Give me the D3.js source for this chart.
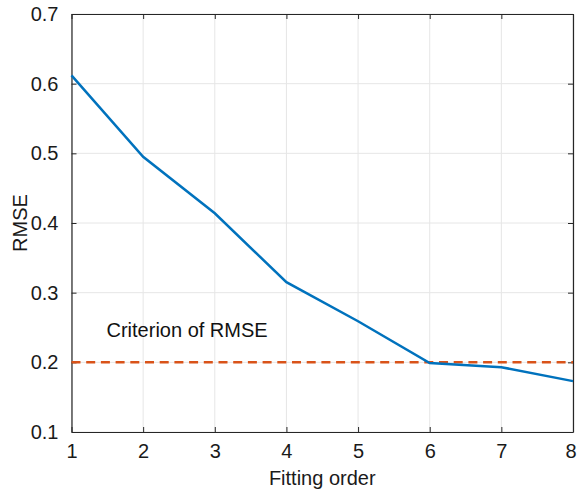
<!DOCTYPE html>
<html><head><meta charset="utf-8">
<script src="https://cdn.jsdelivr.net/npm/d3@7"></script>
<style>body{margin:0;background:#fff}svg{display:block}text{font-family:"Liberation Sans",Arial,sans-serif}</style>
</head><body><svg id="c" width="577" height="493"></svg>
<script>
const orders = [1,2,3,4,5,6,7,8];
const rmse = [0.612,0.495,0.414,0.315,0.259,0.199,0.193,0.173];
const criterion = 0.2;
const xTicks = [1,2,3,4,5,6,7,8];
const yTicks = [0.1,0.2,0.3,0.4,0.5,0.6,0.7];
const xLabel = "Fitting order", yLabel = "RMSE", critLabel = "Criterion of RMSE";

const svg = d3.select("#c");
const L=71.5,R=573,T=14,B=432;
const x = d3.scaleLinear().domain([1,8]).range([L,R]);
const y = d3.scaleLinear().domain([0.1,0.7]).range([B,T]);
const axisColor="#262626";
const fs="20px";

// grid
svg.append("g").selectAll("line").data(xTicks).join("line")
  .attr("x1",d=>x(d)).attr("x2",d=>x(d)).attr("y1",T).attr("y2",B)
  .attr("stroke","#e6e6e6").attr("stroke-width",1);
svg.append("g").selectAll("line").data(yTicks).join("line")
  .attr("x1",L).attr("x2",R).attr("y1",d=>y(d)).attr("y2",d=>y(d))
  .attr("stroke","#e6e6e6").attr("stroke-width",1);

// axes
const fmt = d3.format(".1f");
const gx = svg.append("g").attr("transform",`translate(0,${B})`)
  .call(d3.axisBottom(x).tickValues(xTicks).tickSizeInner(-5).tickSizeOuter(0).tickPadding(12).tickFormat(d3.format("d")));
const gxt = svg.append("g").attr("transform",`translate(0,${T})`)
  .call(d3.axisTop(x).tickValues(xTicks).tickSizeInner(-5).tickSizeOuter(0).tickFormat(""));
const gy = svg.append("g").attr("transform",`translate(${L},0)`)
  .call(d3.axisLeft(y).tickValues(yTicks).tickSizeInner(-5).tickSizeOuter(0).tickPadding(13).tickFormat(fmt));
const gyr = svg.append("g").attr("transform",`translate(${R},0)`)
  .call(d3.axisRight(y).tickValues(yTicks).tickSizeInner(-5).tickSizeOuter(0).tickFormat(""));
[gx,gxt,gy,gyr].forEach(g=>{
  g.selectAll("path").attr("stroke",axisColor).attr("stroke-width",1.2);
  g.selectAll("line").attr("stroke",axisColor);
  g.selectAll("text").attr("fill","#1a1a1a").style("font-size",fs);
});
// keep last x tick label inside the window
gx.selectAll(".tick text").filter(d=>d===8).attr("dx",-2.5);

// criterion line
svg.append("line").attr("x1",L).attr("x2",R).attr("y1",y(criterion)).attr("y2",y(criterion))
  .attr("stroke","#d95319").attr("stroke-width",2.5).attr("stroke-dasharray","9,5.7");

// series
svg.append("path").datum(orders.map((o,i)=>[o,rmse[i]]))
  .attr("d",d3.line().x(d=>x(d[0])).y(d=>y(d[1])))
  .attr("fill","none").attr("stroke","#0072bd").attr("stroke-width",2.5);

svg.append("text").attr("x",106.5).attr("y",336.5).attr("fill","#111").style("font-size",fs).text(critLabel);

svg.append("text").attr("x",(L+R)/2).attr("y",485).attr("text-anchor","middle").attr("fill","#1a1a1a").style("font-size",fs).text(xLabel);
svg.append("text").attr("transform",`translate(27,${(T+B)/2}) rotate(-90)`).attr("text-anchor","middle").attr("fill","#1a1a1a").style("font-size",fs).text(yLabel);
</script></body></html>
